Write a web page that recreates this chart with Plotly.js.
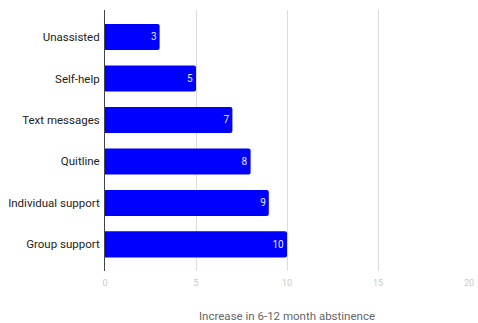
<!DOCTYPE html>
<html><head><meta charset="utf-8">
<script src="https://cdn.plot.ly/plotly-3.0.1.min.js"></script>
<style>html,body{margin:0;padding:0;background:#fff}</style>
</head><body>
<div id="chart" style="width:478px;height:323px"></div>
<script>
var categories = ["Unassisted","Self-help","Text messages","Quitline","Individual support","Group support"];
var values = [3,5,7,8,9,10];
var xTicks = [0,5,10,15,20];

var trace = {
  type: 'bar', orientation: 'h',
  y: categories, x: values,
  text: values.map(String),
  textposition: 'inside', insidetextanchor: 'end',
  textfont: {family: 'Roboto', size: 10, color: '#e8e8ff'},
  marker: {color: '#0000ff', cornerradius: 2},
  hoverinfo: 'none'
};
var layout = {
  width: 478, height: 323,
  margin: {l: 105, r: 9, t: 10, b: 52},
  paper_bgcolor: '#fff', plot_bgcolor: '#fff',
  font: {family: 'Roboto', color: '#222'},
  bargap: 0.37,
  showlegend: false,
  xaxis: {
    range: [0, 20], tickvals: xTicks, ticktext: xTicks.map(String),
    showgrid: true, gridcolor: '#dcdcdc', gridwidth: 1,
    zeroline: false, showline: false,
    tickfont: {size: 9, color: '#c8c8c8'}, ticks: '', ticklen: 0,
    ticklabelstandoff: 5,
    title: {text: 'Increase in 6-12 month abstinence', font: {size: 11.5, color: '#666'}, standoff: 30}
  },
  yaxis: {
    type: 'category', categoryorder: 'array', categoryarray: categories,
    range: [5.64, -0.65],
    showline: true, linecolor: '#444', linewidth: 1,
    showgrid: false, zeroline: false, ticks: '',
    ticklabelstandoff: 2,
    tickfont: {size: 11.5, color: '#222'}
  }
};
Plotly.newPlot('chart', [trace], layout, {staticPlot: true, displayModeBar: false});
</script>
</body></html>
